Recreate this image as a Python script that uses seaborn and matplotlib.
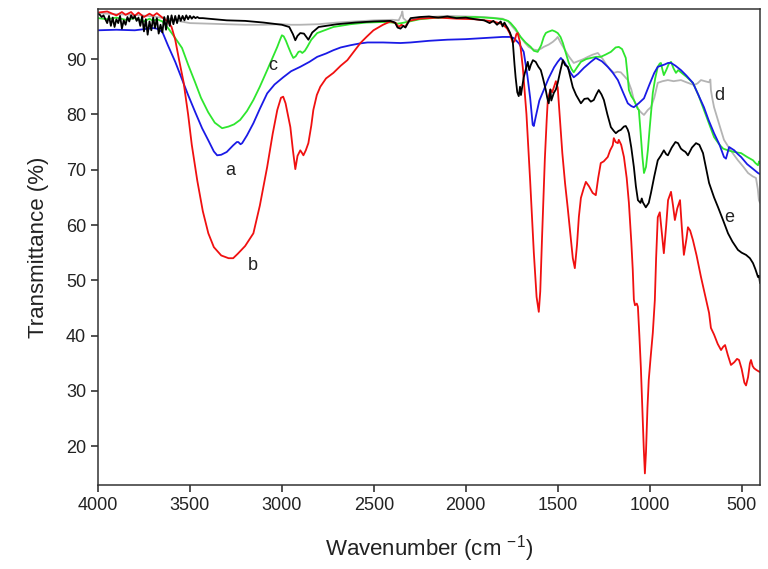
import pandas as pd
import numpy as np
import matplotlib
matplotlib.use("Agg")
import matplotlib.pyplot as plt
import seaborn as sns

# Espectros FTIR (numero de onda, transmitancia)

# a - azul
wn_a = [4000, 3900, 3800, 3750, 3700, 3680, 3650, 3620, 3580, 3545, 3510, 3470, 3434, 3400, 3370,
        3352, 3330, 3300, 3265, 3245, 3237, 3225, 3216, 3190, 3155, 3120, 3080, 3040, 2993, 2950,
        2900, 2850, 2808, 2760, 2720, 2680, 2627, 2580, 2535, 2450, 2355, 2300, 2200, 2100, 2000,
        1900, 1800, 1760, 1739, 1710, 1685, 1665, 1650, 1636, 1630, 1620, 1600, 1576, 1550, 1520,
        1500, 1483, 1465, 1445, 1430, 1413, 1390, 1358, 1320, 1293, 1260, 1228, 1200, 1173, 1145,
        1119, 1100, 1086, 1060, 1031, 1000, 975, 956, 920, 900, 884, 860, 830, 800, 765,
        735, 705, 680, 650, 620, 596, 585, 568, 540, 520, 503, 470, 440, 411, 400]
t_a = [95.2, 95.3, 95.2, 95.4, 95.6, 95.5, 94.9, 92.5, 89.5, 86.5, 83.5, 80.3, 77.5, 75.3, 73.3,
       72.6, 72.7, 73.2, 74.4, 75.0, 75.0, 74.6, 74.8, 76.2, 78.4, 81.0, 83.8, 85.4, 86.7, 87.8,
       88.6, 89.5, 90.4, 91.0, 91.6, 92.1, 92.5, 92.8, 93.0, 93.0, 92.9, 93.0, 93.3, 93.5, 93.6,
       93.8, 94.0, 94.0, 93.8, 92.8, 91.3, 87.0, 83.0, 78.1, 77.9, 79.5, 82.5, 84.4, 86.5, 88.5,
       89.5, 90.2, 89.5, 88.4, 87.5, 86.7, 87.3, 88.4, 89.5, 90.2, 89.6, 88.6, 87.5, 86.2, 84.0,
       82.0, 81.5, 81.3, 82.0, 82.9, 85.5, 87.5, 88.6, 89.0, 89.3, 89.3, 88.8, 88.0, 87.0, 85.7,
       83.5, 81.3, 79.0, 76.6, 74.5, 72.3, 72.0, 74.1, 73.5, 72.8, 72.3, 71.0, 70.2, 69.4, 69.2]

# b - vermelho
wn_b = [4000, 3950, 3900, 3870, 3850, 3820, 3800, 3780, 3750, 3720, 3700, 3680, 3650, 3620, 3600,
        3580, 3560, 3535, 3510, 3490, 3460, 3430, 3400, 3370, 3330, 3290, 3265, 3240, 3200, 3155,
        3120, 3080, 3050, 3025, 3005, 2993, 2980, 2965, 2954, 2940, 2927, 2915, 2900, 2890, 2883,
        2870, 2856, 2840, 2829, 2810, 2791, 2760, 2720, 2680, 2644, 2610, 2573, 2540, 2502, 2450,
        2410, 2380, 2365, 2350, 2330, 2310, 2250, 2150, 2050, 1950, 1850, 1800, 1775, 1760, 1745,
        1735, 1725, 1718, 1705, 1690, 1670, 1650, 1630, 1615, 1603, 1595, 1585, 1570, 1560, 1554,
        1540, 1530, 1520, 1510, 1500, 1490, 1475, 1460, 1446, 1430, 1418, 1407, 1395, 1385, 1374,
        1360, 1347, 1330, 1310, 1293, 1280, 1266, 1250, 1228, 1215, 1201, 1195, 1185, 1173, 1168,
        1155, 1140, 1125, 1113, 1100, 1092, 1086, 1080, 1070, 1064, 1056, 1048, 1040, 1032, 1026,
        1020, 1012, 1005, 995, 983, 972, 965, 956, 945, 935, 923, 910, 900, 884, 873,
        863, 850, 835, 825, 814, 800, 792, 780, 765, 745, 721, 700, 677, 667, 650,
        630, 612, 600, 590, 575, 558, 540, 525, 514, 500, 485, 476, 465, 455, 449,
        440, 432, 420, 410, 400]
t_b = [98.4, 98.6, 97.9, 98.5, 98.0, 98.5, 97.8, 98.4, 97.6, 98.2, 97.8, 98.3, 97.5, 96.8, 95.8,
       93.5, 90.0, 85.9, 80.0, 74.5, 68.0, 62.5, 58.5, 56.0, 54.5, 54.0, 54.0, 54.8, 56.2, 58.5,
       63.5, 70.5, 76.5, 80.8, 83.0, 83.2, 82.0, 79.5, 77.7, 73.5, 70.1, 72.5, 73.5, 73.0, 72.6,
       73.5, 74.8, 78.0, 80.8, 83.5, 85.0, 86.5, 87.5, 88.8, 89.8, 91.3, 92.9, 94.0, 95.2, 96.2,
       96.8, 96.5, 95.8, 96.2, 95.8, 96.9, 97.3, 97.5, 97.3, 97.2, 96.8, 96.3, 95.5, 94.6, 93.0,
       93.2, 94.5, 94.7, 93.0, 88.5, 80.0, 68.0, 55.0, 47.0, 44.3, 48.0, 58.0, 72.0, 79.0, 82.6,
       84.5, 84.0, 85.0, 86.0, 84.8, 80.0, 73.0, 67.5, 63.2, 58.0, 54.0, 52.2, 56.5, 61.5, 64.9,
       66.5, 67.8, 67.0, 65.8, 65.4, 68.5, 71.2, 71.5, 72.3, 73.5, 74.4, 75.7, 75.0, 74.8, 75.4,
       74.5, 72.3, 68.5, 64.0, 57.0, 51.9, 46.5, 45.5, 45.8, 45.2, 40.0, 34.3, 27.0, 19.5, 15.1,
       19.0, 27.0, 32.0, 36.0, 40.5, 46.4, 54.0, 61.4, 62.3, 59.0, 54.9, 60.0, 64.5, 66.0, 63.5,
       60.9, 63.0, 64.5, 59.5, 54.6, 57.5, 59.6, 59.0, 57.3, 54.5, 50.6, 47.5, 44.1, 41.4, 40.2,
       38.5, 37.4, 38.0, 38.3, 36.5, 34.7, 35.2, 35.8, 35.6, 34.0, 31.5, 31.0, 32.5, 35.0, 35.6,
       34.5, 34.1, 33.8, 33.6, 33.4]

# c - verde
wn_c = [4000, 3950, 3900, 3850, 3800, 3750, 3720, 3700, 3680, 3650, 3619, 3580, 3543, 3510, 3472,
        3440, 3401, 3365, 3325, 3290, 3260, 3227, 3190, 3155, 3120, 3080, 3050, 3025, 3010, 3000,
        2990, 2978, 2965, 2950, 2938, 2925, 2910, 2900, 2889, 2875, 2862, 2840, 2808, 2760, 2720,
        2627, 2540, 2448, 2400, 2371, 2350, 2320, 2250, 2150, 2050, 1950, 1850, 1800, 1770, 1756,
        1730, 1702, 1675, 1647, 1630, 1609, 1590, 1576, 1565, 1554, 1530, 1515, 1500, 1485, 1472,
        1455, 1440, 1425, 1413, 1395, 1374, 1345, 1320, 1290, 1266, 1240, 1211, 1185, 1168, 1150,
        1130, 1120, 1113, 1100, 1086, 1075, 1065, 1059, 1050, 1040, 1031, 1020, 1010, 1000, 983,
        970, 956, 945, 939, 930, 923, 910, 895, 884, 870, 857, 845, 830, 800, 765,
        735, 705, 680, 650, 620, 600, 574, 540, 503, 470, 438, 425, 411, 405, 400]
t_c = [97.4, 97.2, 97.5, 97.1, 97.4, 96.8, 97.3, 96.9, 97.2, 96.8, 95.6, 93.8, 92.0, 89.0, 85.8,
       83.0, 80.4, 78.5, 77.5, 77.8, 78.2, 79.0, 80.6, 82.6, 85.0, 88.0, 90.3, 92.2, 93.5, 94.3,
       94.1, 93.3, 92.2, 91.0, 90.2, 90.5, 91.3, 91.4, 91.1, 91.5, 92.2, 93.5, 94.7, 95.3, 95.8,
       96.3, 96.6, 96.7, 96.6, 96.4, 96.5, 96.7, 97.2, 97.5, 97.5, 97.6, 97.4, 97.2, 96.9, 96.5,
       95.5, 94.0, 93.0, 92.2, 91.5, 91.3, 92.5, 94.0, 94.7, 94.9, 95.2, 95.0, 94.7, 94.0, 92.9,
       91.0, 89.3, 88.2, 87.6, 88.5, 89.5, 90.0, 90.2, 90.4, 90.4, 90.8, 91.3, 92.1, 92.2, 91.8,
       90.2, 87.0, 84.4, 83.3, 82.6, 81.8, 81.0, 80.8, 77.0, 72.5, 69.4, 70.5, 73.5, 77.5, 83.9,
       86.5, 88.6, 89.2, 89.3, 88.0, 87.1, 88.0, 89.2, 89.5, 88.3, 87.5, 88.0, 87.6, 86.8, 85.7,
       83.5, 80.8, 78.5, 75.9, 74.5, 73.8, 73.5, 73.2, 73.0, 72.3, 71.7, 71.2, 70.8, 71.5, 71.2]

# d - cinza
wn_d = [4000, 3900, 3800, 3700, 3600, 3550, 3500, 3400, 3300, 3200, 3100, 3000, 2950, 2900, 2800,
        2700, 2600, 2500, 2400, 2365, 2350, 2345, 2340, 2320, 2300, 2200, 2100, 2000, 1900, 1800,
        1770, 1745, 1720, 1702, 1680, 1658, 1630, 1609, 1590, 1576, 1550, 1527, 1510, 1500, 1485,
        1467, 1440, 1413, 1390, 1360, 1336, 1310, 1282, 1255, 1228, 1195, 1175, 1157, 1140, 1119,
        1100, 1086, 1070, 1059, 1045, 1031, 1010, 993, 975, 956, 930, 901, 870, 830, 800,
        759, 740, 721, 700, 677, 670, 667, 660, 650, 620, 596, 560, 520, 490, 465,
        440, 422, 412, 406, 400]
t_d = [98.3, 98.1, 98.0, 97.7, 97.2, 96.8, 96.5, 96.4, 96.3, 96.2, 96.2, 96.3, 96.2, 96.2, 96.3,
       96.6, 96.8, 97.0, 97.1, 97.0, 98.0, 98.6, 97.4, 96.8, 97.2, 97.6, 97.8, 97.7, 97.6, 97.3,
       96.8, 95.8, 94.8, 94.0, 93.0, 92.2, 91.7, 91.6, 91.9, 92.2, 92.6, 93.1, 93.6, 94.0, 93.0,
       92.0, 90.5, 89.3, 89.6, 90.0, 90.4, 90.8, 91.1, 90.0, 88.6, 87.5, 87.7, 87.6, 87.0, 86.2,
       84.5, 82.6, 81.5, 80.8, 80.3, 79.9, 80.8, 81.3, 83.0, 85.7, 86.0, 86.2, 86.0, 86.2, 85.8,
       85.3, 85.6, 86.2, 86.0, 85.8, 86.3, 84.4, 83.0, 81.3, 78.0, 75.4, 73.5, 71.7, 70.5, 69.4,
       68.8, 68.5, 66.5, 64.5, 64.0]

# e - preto
wn_e = [4000, 3990, 3980, 3970, 3960, 3950, 3940, 3930, 3920, 3910, 3900, 3890, 3880, 3870, 3860,
        3850, 3840, 3830, 3820, 3810, 3800, 3790, 3780, 3770, 3760, 3750, 3740, 3730, 3720, 3710,
        3700, 3690, 3680, 3670, 3660, 3650, 3640, 3630, 3620, 3610, 3600, 3590, 3580, 3570, 3560,
        3550, 3540, 3530, 3520, 3510, 3500, 3490, 3480, 3470, 3460, 3450, 3430, 3400, 3300, 3200,
        3100, 3000, 2960, 2940, 2927, 2915, 2900, 2880, 2856, 2835, 2800, 2700, 2600, 2500, 2410,
        2385, 2371, 2355, 2340, 2328, 2310, 2300, 2250, 2200, 2150, 2100, 2050, 2000, 1950, 1900,
        1870, 1850, 1830, 1810, 1800, 1790, 1780, 1772, 1760, 1745, 1735, 1729, 1720, 1712, 1705,
        1700, 1690, 1685, 1675, 1663, 1655, 1647, 1635, 1620, 1605, 1592, 1580, 1565, 1557, 1549,
        1540, 1535, 1521, 1510, 1500, 1485, 1472, 1460, 1445, 1430, 1418, 1400, 1374, 1355, 1336,
        1320, 1304, 1290, 1277, 1262, 1249, 1230, 1211, 1195, 1184, 1170, 1157, 1140, 1130, 1120,
        1113, 1100, 1086, 1075, 1064, 1050, 1043, 1037, 1021, 1005, 993, 975, 956, 940, 923,
        910, 901, 880, 860, 846, 830, 819, 805, 792, 770, 748, 730, 710, 695, 677,
        650, 628, 600, 574, 550, 520, 500, 476, 455, 438, 425, 415, 411, 405, 400]
t_e = [98.2, 98.0, 97.6, 97.9, 97.2, 96.5, 97.8, 96.0, 97.5, 95.8, 97.2, 96.5, 97.8, 95.5, 97.0,
       96.2, 97.6, 96.8, 97.9, 97.3, 97.8, 96.9, 97.5, 96.0, 97.7, 95.0, 97.2, 94.4, 96.8, 95.2,
       97.5, 95.6, 97.4, 94.6, 96.2, 94.8, 97.6, 95.3, 97.8, 96.0, 97.9, 96.3, 97.8, 96.5, 97.9,
       96.9, 97.8, 97.0, 97.9, 97.2, 97.8, 97.3, 97.7, 97.4, 97.6, 97.4, 97.4, 97.3, 97.0, 96.9,
       96.6, 96.2, 95.8, 94.5, 93.4, 94.2, 94.7, 94.6, 93.5, 94.8, 95.8, 96.3, 96.6, 96.8, 96.9,
       96.6, 95.7, 95.5, 96.0, 95.7, 96.8, 97.4, 97.6, 97.7, 97.5, 97.7, 97.4, 97.5, 97.2, 97.0,
       96.5, 96.9, 96.2, 96.8, 95.9, 96.6, 96.0, 95.6, 94.8, 93.4, 89.0, 86.7, 84.0, 83.3, 85.0,
       83.5, 85.7, 86.7, 88.0, 89.5, 88.0, 88.9, 89.8, 89.5, 88.6, 88.0, 86.5, 84.4, 83.0, 82.0,
       84.5, 82.5, 83.9, 84.5, 85.7, 88.0, 89.8, 88.9, 88.6, 86.5, 84.9, 83.5, 82.0, 82.8, 82.9,
       82.3, 82.6, 83.6, 84.4, 83.6, 82.6, 80.0, 77.7, 77.0, 76.6, 77.0, 77.2, 77.8, 77.9, 77.3,
       76.6, 74.0, 70.5, 67.0, 64.5, 64.0, 64.8, 64.1, 63.2, 64.0, 65.8, 68.8, 71.7, 72.5, 73.5,
       72.8, 72.6, 74.0, 75.0, 74.8, 73.8, 73.5, 73.2, 72.6, 74.0, 74.8, 74.5, 73.0, 70.5, 67.6,
       65.0, 63.2, 60.8, 58.5, 57.0, 55.5, 55.0, 54.6, 54.0, 53.1, 52.0, 51.0, 50.6, 50.8, 49.5]

# Rotulos das curvas
rotulos = ["a", "b", "c", "d", "e"]
rot_x = [3281, 3156, 3052, 623, 568]
rot_y = [69.9, 52.6, 88.9, 83.5, 61.4]

# Estilo
sns.set_style("ticks")
plt.rcParams["font.family"] = ["Liberation Sans", "DejaVu Sans"]
plt.rcParams["mathtext.fontset"] = "custom"
plt.rcParams["mathtext.rm"] = "Liberation Sans"
plt.rcParams["mathtext.it"] = "Liberation Sans"

fig = plt.figure(figsize=(7.68, 5.69), dpi=100)
ax = fig.add_axes([0.1276, 0.1476, 0.862, 0.8361])

series = [
    (wn_d, t_d, "#b4b4b4"),
    (wn_c, t_c, "#2ee62e"),
    (wn_a, t_a, "#1a1ae6"),
    (wn_b, t_b, "#f01010"),
    (wn_e, t_e, "#000000"),
]
for wn, t, cor in series:
    sns.lineplot(x=wn, y=t, color=cor, lw=1.3, sort=False, ax=ax)

for r, x, y in zip(rotulos, rot_x, rot_y):
    ax.text(x, y, r, fontsize=13, ha="center", va="center", color="#222222")

ax.set_xlim(4000, 400)
ax.set_ylim(13, 99)
ax.set_xticks([4000, 3500, 3000, 2500, 2000, 1500, 1000, 500])
ax.set_yticks([20, 30, 40, 50, 60, 70, 80, 90])
ax.tick_params(axis="both", direction="out", length=5, width=1.1, labelsize=13,
               colors="#222222", top=False, right=False)
for s in ax.spines.values():
    s.set_visible(True)
    s.set_linewidth(1.1)
    s.set_color("#333333")

ax.set_xlabel("Wavenumber (cm $^{-1}$)", fontsize=16, color="#222222", labelpad=14)
ax.set_ylabel("Transmittance (%)", fontsize=16, color="#222222", labelpad=12)

plt.savefig("out.png", dpi=100)
